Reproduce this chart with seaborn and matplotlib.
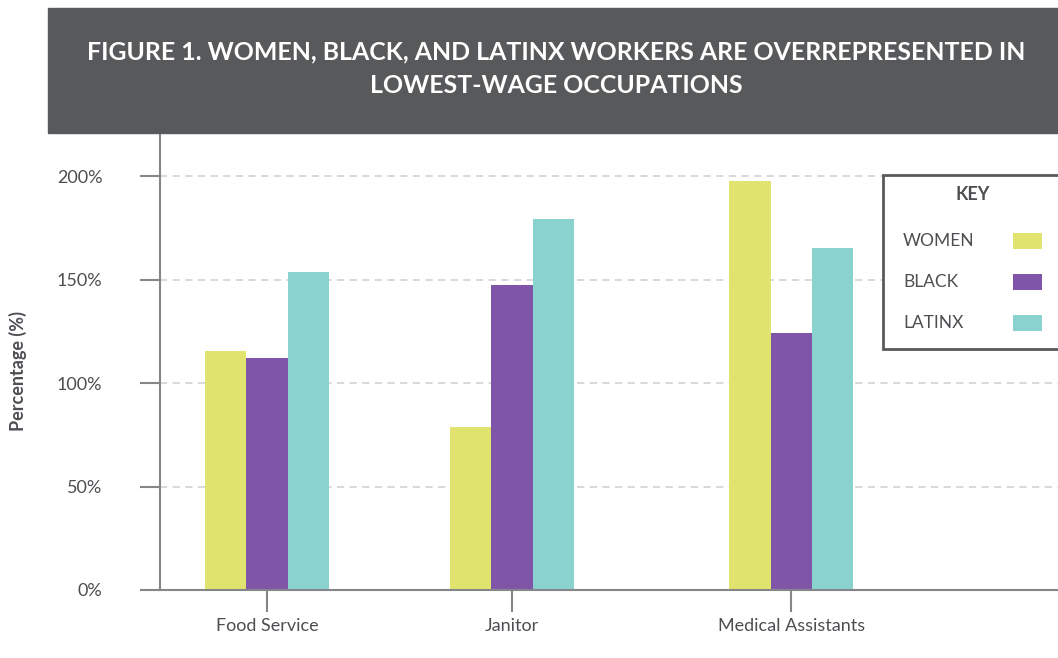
import pandas as pd
import matplotlib.pyplot as plt
import seaborn as sns
from matplotlib.patches import Rectangle

# Dados
occupations = ['Food Service', 'Janitor', 'Medical Assistants']
groups = ['WOMEN', 'BLACK', 'LATINX']
women = [115.3, 78.6, 197.4]
black = [112.3, 147.6, 124.1]
latinx = [153.7, 179.3, 165.1]

# posicoes dos grupos no eixo x (o espaçamento no original nao e uniforme)
group_pos = [0.0, 1.0, 2.14]

cores = ['#e0e46f', '#7f55a8', '#8ad2ce']
cinza_escuro = '#58595b'
cinza_eixo = '#85868a'
cinza_texto = '#4d4e52'

rows = []
for i, occ in enumerate(occupations):
    for g, vals in zip(groups, [women, black, latinx]):
        rows.append({'occupation': occ, 'pos': group_pos[i], 'group': g, 'value': vals[i]})
df = pd.DataFrame(rows)

sns.set_theme(style='white')
plt.rcParams['font.family'] = ['Lato', 'DejaVu Sans']

W, H = 1058, 658
fig = plt.figure(figsize=(W / 100, H / 100), dpi=100)

# faixa do titulo
fig.patches.append(Rectangle((48 / W, 1 - 133 / H), (W - 48) / W, 125 / H,
                             transform=fig.transFigure, color=cinza_escuro, zorder=0))
fig.text(556 / W, 1 - 69 / H,
         'FIGURE 1. WOMEN, BLACK, AND LATINX WORKERS ARE OVERREPRESENTED IN\nLOWEST-WAGE OCCUPATIONS',
         ha='center', va='center', color='white', fontsize=17.9, fontweight='bold',
         linespacing=1.55, multialignment='center')

ax = fig.add_axes([160 / W, (H - 590) / H, (W - 160) / W, (590 - 133) / H])

sns.barplot(data=df, x='pos', y='value', hue='group', hue_order=groups,
            palette=cores, saturation=1, native_scale=True, width=0.506, linewidth=0,
            errorbar=None, legend=False, ax=ax)

ax.set_xlim((160 - 267) / 245, (W - 267) / 245)
ax.set_ylim(0, 220.8)
ax.set_xticks(group_pos, occupations)
ax.set_yticks([0, 50, 100, 150, 200], ['0%', '50%', '100%', '150%', '200%'])
ax.set_xlabel('')
ax.set_ylabel('')

ax.yaxis.grid(True, linestyle=(0, (4, 3)), color='#d5d5d5', linewidth=1.3)
ax.set_axisbelow(True)

for s in ['top', 'right']:
    ax.spines[s].set_visible(False)
for s in ['left', 'bottom']:
    ax.spines[s].set_color(cinza_eixo)
    ax.spines[s].set_linewidth(1.5)

ax.tick_params(axis='y', direction='out', length=14.5, width=1.5, color=cinza_eixo,
               pad=27, labelsize=13, labelcolor=cinza_texto, left=True)
ax.tick_params(axis='x', direction='out', length=15.5, width=1.5, color=cinza_eixo,
               pad=5, labelsize=13, labelcolor=cinza_texto, bottom=True)

fig.text(18 / W, 1 - 371 / H, 'Percentage (%)', rotation=90, ha='center', va='center',
         fontsize=13, fontweight='bold', color=cinza_texto)

# legenda "KEY" (texto a esquerda, amostra de cor a direita)
fig.patches.append(Rectangle((883 / W, 1 - 349 / H), 185 / W, 174 / H,
                             transform=fig.transFigure, facecolor='white',
                             edgecolor=cinza_escuro, linewidth=2, zorder=5))
fig.text(973 / W, 1 - 195 / H, 'KEY', ha='center', va='center', fontsize=13,
         fontweight='bold', color=cinza_texto, zorder=6)
for k, (g, c) in enumerate(zip(groups, cores)):
    yc = 241 + 41 * k
    fig.text(903 / W, 1 - yc / H, g, ha='left', va='center', fontsize=12.5,
             color=cinza_texto, zorder=6)
    fig.patches.append(Rectangle((1013 / W, 1 - (yc + 8) / H), 29 / W, 16 / H,
                                 transform=fig.transFigure, facecolor=c,
                                 edgecolor='none', zorder=6))

fig.savefig('out.png', dpi=100)
